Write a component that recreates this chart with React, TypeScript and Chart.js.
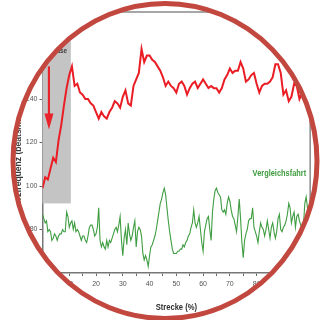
import { useEffect, useRef } from 'react';
import { Chart, registerables } from 'chart.js';

Chart.register(...registerables);

// Strecke (%) for the test ride (red) and the comparison ride (green)
const streckeTest = [
  0, 1, 2, 3, 4, 5, 6, 7, 8, 9, 10, 11, 12, 13, 14, 15, 16, 17, 18, 19,
  20, 21, 22, 23, 24, 25, 26, 27, 28, 29, 30, 31, 32, 33, 34, 35, 36, 37, 38, 39,
  40, 41, 42, 43, 44, 45, 46, 47, 48, 49, 50, 51, 52, 53, 54, 55, 56, 57, 58, 59,
  60, 61, 62, 63, 64, 65, 66, 67, 68, 69, 70, 71, 72, 73, 74, 75, 76, 77, 78, 79,
  80, 81, 82, 83, 84, 85, 86, 87, 88, 89, 90, 91, 92, 93, 94, 95, 96, 97, 98, 99, 100,
];
const herzTest = [
  99, 104, 103, 108, 113, 111, 121, 128, 137, 145, 151, 155, 146, 147, 143, 142, 140, 140, 138, 137,
  134, 131, 134, 132, 131, 134, 136, 139, 138, 136, 141, 144, 138, 137, 146, 149, 152, 163, 157, 160,
  160, 158, 157, 155, 153, 150, 146, 148, 146, 145, 143, 147, 148, 146, 142, 145, 147, 148, 145, 147,
  149, 147, 145, 146, 145, 145, 143, 145, 149, 151, 154, 152, 153, 153, 157, 154, 148, 149, 151, 152,
  147, 143, 146, 147, 147, 148, 150, 156, 156, 152, 142, 144, 139, 141, 147, 146, 140, 143, 141, 139, 141,
];

const streckeVergleich = [
  0, 0.5, 1, 1.5, 2, 2.5, 3, 3.5, 4, 4.5, 5, 5.5, 6, 6.5, 7, 7.5, 8, 8.5, 9, 9.5,
  10, 10.5, 11, 11.5, 12, 12.5, 13, 13.5, 14, 14.5, 15, 15.5, 16, 16.5, 17, 17.5, 18, 18.5, 19, 19.5,
  20, 20.5, 21, 21.5, 22, 22.5, 23, 23.5, 24, 24.5, 25, 25.5, 26, 26.5, 27, 27.5, 28, 28.5, 29, 29.5,
  30, 30.5, 31, 31.5, 32, 32.5, 33, 33.5, 34, 34.5, 35, 35.5, 36, 36.5, 37, 37.5, 38, 38.5, 39, 39.5,
  40, 40.5, 41, 41.5, 42, 42.5, 43, 43.5, 44, 44.5, 45, 45.5, 46, 46.5, 47, 47.5, 48, 48.5, 49, 49.5,
  50, 50.5, 51, 51.5, 52, 52.5, 53, 53.5, 54, 54.5, 55, 55.5, 56, 56.5, 57, 57.5, 58, 58.5, 59, 59.5,
  60, 60.5, 61, 61.5, 62, 62.5, 63, 63.5, 64, 64.5, 65, 65.5, 66, 66.5, 67, 67.5, 68, 68.5, 69, 69.5,
  70, 70.5, 71, 71.5, 72, 72.5, 73, 73.5, 74, 74.5, 75, 75.5, 76, 76.5, 77, 77.5, 78, 78.5, 79, 79.5,
  80, 80.5, 81, 81.5, 82, 82.5, 83, 83.5, 84, 84.5, 85, 85.5, 86, 86.5, 87, 87.5, 88, 88.5, 89, 89.5,
  90, 90.5, 91, 91.5, 92, 92.5, 93, 93.5, 94, 94.5, 95, 95.5, 96, 96.5, 97, 97.5, 98, 98.5, 99, 99.5, 100,
];
const herzVergleich = [
  87, 85, 83, 84, 79, 80, 79, 75, 76, 78, 77, 75, 77, 78, 78, 80, 79, 79, 88, 86,
  81, 83, 84, 80, 83, 79, 80, 79, 77, 75, 77, 77, 75, 74, 77, 81, 82, 82, 80, 77,
  78, 81, 90, 75, 72, 74, 72, 71, 75, 72, 75, 74, 76, 78, 80, 81, 79, 82, 86, 75,
  68, 76, 80, 73, 83, 78, 75, 77, 81, 84, 72, 79, 81, 80, 77, 69, 66, 68, 66, 63,
  68, 72, 73, 75, 77, 80, 84, 88, 92, 94, 97, 99, 96, 90, 84, 79, 75, 71, 69, 69,
  69, 70, 70, 71, 71, 73, 72, 74, 75, 77, 78, 81, 83, 89, 83, 81, 83, 86, 80, 74,
  70, 79, 82, 85, 86, 80, 75, 88, 94, 98, 99, 97, 96, 95, 89, 88, 89, 87, 92, 95,
  93, 89, 86, 85, 82, 79, 86, 94, 85, 74, 67, 75, 78, 80, 84, 85, 85, 90, 81, 79,
  77, 74, 79, 83, 81, 80, 77, 80, 84, 80, 76, 81, 83, 79, 76, 79, 85, 87, 80, 79,
  81, 82, 84, 87, 92, 90, 83, 86, 88, 81, 86, 87, 84, 82, 80, 82, 92, 95, 90, 87, 85,
];

// shaded warm-up phase (x from start to end, y from floor to top of the axis)
const warmupStart = 0;
const warmupEnd = 10.6;
const warmupFloor = 92;
// arrow inside the warm-up phase
const arrowAt = 2.4;
const arrowFrom = 155;
const arrowTo = 126;
// labels
const vergleichLabel = 'Vergleichsfahrt';
const vergleichLabelX = 98.5;
const vergleichLabelY = 106;
const warmupLabel = 'Aufwärmphase';
const warmupLabelX = 9.2;
const warmupLabelY = 162;
const xTitle = 'Strecke (%)';
const yTitle = 'Herzfrequenz (beats/min)';

const FONT = "'Liberation Sans', Arial, sans-serif";

function narrowText(ctx: any, text: string, x: number, y: number, scaleX: number, align: string, rotate = 0) {
  ctx.save();
  ctx.translate(x, y);
  if (rotate) ctx.rotate(rotate);
  ctx.scale(scaleX, 1);
  ctx.textAlign = align;
  ctx.textBaseline = 'middle';
  ctx.fillText(text, 0, 0);
  ctx.restore();
}

const overlayPlugin = {
  id: 'overlay',
  beforeDatasetsDraw(chart: any) {
    const { ctx, scales } = chart;
    const x = scales.x;
    const y = scales.y;
    ctx.save();
    const x0 = x.getPixelForValue(warmupStart);
    const x1 = x.getPixelForValue(warmupEnd);
    const y0 = y.getPixelForValue(y.max);
    const y1 = y.getPixelForValue(warmupFloor);
    ctx.fillStyle = '#c4c4c4';
    ctx.fillRect(x0, y0, x1 - x0, y1 - y0);
    ctx.fillStyle = '#3a3a3a';
    ctx.font = `bold 8px ${FONT}`;
    narrowText(ctx, warmupLabel, x.getPixelForValue(warmupLabelX), y.getPixelForValue(warmupLabelY), 0.8, 'right');
    ctx.restore();
  },
  afterDatasetsDraw(chart: any) {
    const { ctx, scales, chartArea } = chart;
    const x = scales.x;
    const y = scales.y;
    ctx.save();
    // frame (top and right)
    ctx.strokeStyle = '#8a8a8a';
    ctx.lineWidth = 1.5;
    ctx.beginPath();
    ctx.moveTo(chartArea.left, chartArea.top);
    ctx.lineTo(chartArea.right, chartArea.top);
    ctx.lineTo(chartArea.right, chartArea.bottom);
    ctx.stroke();
    // arrow
    const ax = x.getPixelForValue(arrowAt);
    const ay0 = y.getPixelForValue(arrowFrom);
    const ay1 = y.getPixelForValue(arrowTo);
    ctx.strokeStyle = '#e8232b';
    ctx.fillStyle = '#e8232b';
    ctx.lineWidth = 2.2;
    ctx.beginPath();
    ctx.moveTo(ax, ay0);
    ctx.lineTo(ax, ay1 - 12);
    ctx.stroke();
    ctx.beginPath();
    ctx.moveTo(ax - 4.5, ay1 - 16);
    ctx.lineTo(ax + 4.5, ay1 - 16);
    ctx.lineTo(ax, ay1);
    ctx.closePath();
    ctx.fill();
    // series label
    ctx.fillStyle = '#3c9a3c';
    ctx.font = `bold 9.5px ${FONT}`;
    narrowText(ctx, vergleichLabel, x.getPixelForValue(vergleichLabelX), y.getPixelForValue(vergleichLabelY), 0.78, 'right');
    // axis titles
    ctx.fillStyle = '#2e2e2e';
    ctx.font = `bold 9.5px ${FONT}`;
    narrowText(ctx, xTitle, (chartArea.left + chartArea.right) / 2, 307, 0.8, 'center');
    ctx.fillStyle = '#3a3a3a';
    ctx.font = `bold 9px ${FONT}`;
    narrowText(ctx, yTitle, 18.5, 160, 0.95, 'center', -Math.PI / 2);
    ctx.restore();
  },
  afterDraw(chart: any) {
    const { ctx, width, height } = chart;
    const cx = 165;
    const cy = 161;
    const rx = 152;
    const ry = 157.5;
    ctx.save();
    ctx.beginPath();
    ctx.rect(0, 0, width, height);
    ctx.ellipse(cx, cy, rx, ry, 0, 0, Math.PI * 2, true);
    ctx.fillStyle = '#ffffff';
    ctx.fill('evenodd');
    ctx.beginPath();
    ctx.ellipse(cx, cy, rx, ry, 0, 0, Math.PI * 2);
    ctx.strokeStyle = '#c2473f';
    ctx.lineWidth = 5;
    ctx.stroke();
    ctx.restore();
  },
};

export default function App() {
  const ref = useRef<HTMLCanvasElement | null>(null);

  useEffect(() => {
    if (!ref.current) return;
    const chart = new Chart(ref.current, {
      type: 'line',
      data: {
        datasets: [
          {
            label: 'Testfahrt',
            data: streckeTest.map((s, i) => ({ x: s, y: herzTest[i] })),
            borderColor: '#ea1c24',
            borderWidth: 2,
            pointRadius: 0,
            tension: 0,
          },
          {
            label: vergleichLabel,
            data: streckeVergleich.map((s, i) => ({ x: s, y: herzVergleich[i] })),
            borderColor: '#3f9d42',
            borderWidth: 1.1,
            pointRadius: 0,
            tension: 0,
          },
        ],
      },
      options: {
        animation: false,
        responsive: false,
        devicePixelRatio: 1,
        layout: { padding: { top: 12, right: 9.5, left: 0, bottom: 0 } },
        plugins: { legend: { display: false }, tooltip: { enabled: false } },
        scales: {
          x: {
            type: 'linear',
            min: 0,
            max: 100,
            afterFit: (s: any) => {
              s.height = 47;
            },
            ticks: {
              stepSize: 5,
              autoSkip: false,
              maxRotation: 0,
              padding: 4,
              color: '#555',
              font: { family: FONT, size: 7 },
              callback: (v: any) => (Number(v) % 10 === 0 ? String(v) : ''),
            },
            grid: { drawOnChartArea: false, drawTicks: true, tickLength: 3, color: '#666' },
            border: { display: true, color: '#777', width: 1.5 },
            title: { display: false, text: xTitle },
          },
          y: {
            min: 60,
            max: 180,
            afterFit: (s: any) => {
              s.width = 42.5;
            },
            ticks: {
              stepSize: 20,
              padding: 2,
              color: '#555',
              font: { family: FONT, size: 7 },
            },
            grid: { drawOnChartArea: false, drawTicks: true, tickLength: 3, color: '#666' },
            border: { display: true, color: '#777', width: 1.5 },
            title: { display: false, text: yTitle },
          },
        },
      },
      plugins: [overlayPlugin],
    });
    return () => chart.destroy();
  }, []);

  return (
    <div style={{ position: 'absolute', left: 0, top: 0, width: 320, height: 320, background: '#fff' }}>
      <canvas ref={ref} width={320} height={320} style={{ display: 'block' }} />
    </div>
  );
}
